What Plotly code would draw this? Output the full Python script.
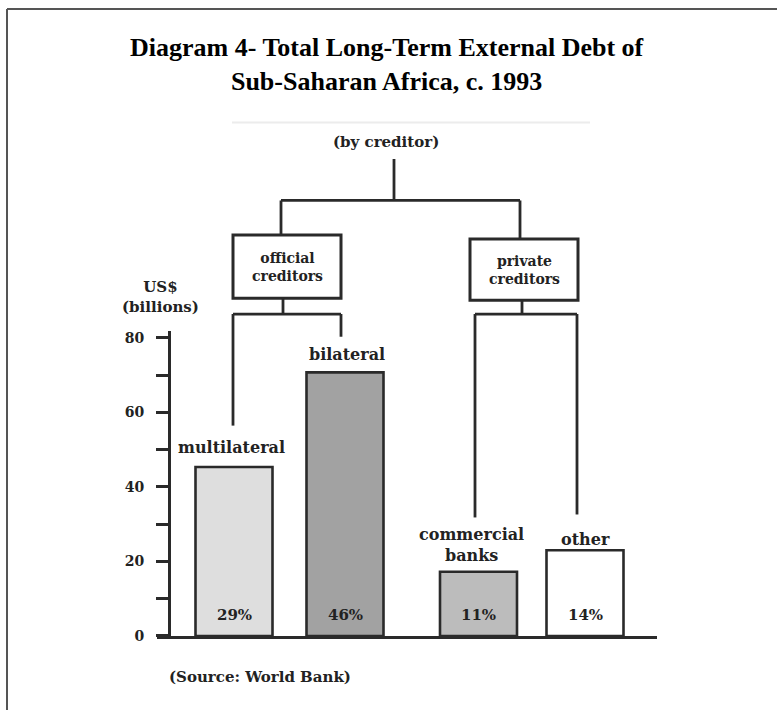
import plotly.graph_objects as go

# ---- data -------------------------------------------------------------
categories = ["multilateral", "bilateral", "commercial<br>banks", "other"]
debt_usd_bn = [45.3, 70.7, 17.2, 23.0]          # US$ billions
shares = ["29%", "46%", "11%", "14%"]
y_tick_vals = [0, 20, 40, 60, 80]
y_minor_vals = [10, 30, 50, 70]

# ---- page geometry (pixels) -------------------------------------------
W, H = 777, 718
BASE_PX, TOP80_PX = 643, 341          # pixel rows of 0 and 80 on the scale
PX_PER_UNIT = (BASE_PX - TOP80_PX) / 80.0
AXIS_TOP_PX = 334
AXIS_X_PX = 169
X_LEFT_PX, X_RIGHT_PX = 157, 657

bar_centers = [234, 345, 478.5, 585]
bar_width = 77
bar_fills = ["#dedede", "#a2a2a2", "#bcbcbc", "#ffffff"]
label_pos = [(231, 452), (347, 358), (471, 551), (585, 545)]

INK = "#2a2a2a"
TXT = "#222222"
SERIF = "Liberation Serif, Times New Roman, serif"
BOOK = "DejaVu Serif, serif"


def fx(px):
    return px / W


def fy(py):
    return 1 - py / H


fig = go.Figure(
    go.Bar(
        x=bar_centers,
        y=debt_usd_bn,
        width=bar_width,
        marker=dict(color=bar_fills, line=dict(color=INK, width=2.6)),
        hoverinfo="skip",
    )
)

shapes = []


def seg(x0, y0, x1, y1, color=INK, width=2.8):
    shapes.append(dict(type="line", xref="paper", yref="paper",
                       x0=fx(x0), y0=fy(y0), x1=fx(x1), y1=fy(y1),
                       line=dict(color=color, width=width)))


def box(x0, y0, x1, y1):
    shapes.append(dict(type="rect", xref="paper", yref="paper",
                       x0=fx(x0), y0=fy(y0), x1=fx(x1), y1=fy(y1),
                       line=dict(color=INK, width=3), fillcolor="white"))


# page frame (top and left rules)
seg(7, 8, W, 8, color="#555555", width=2)
seg(7, 8, 7, H, color="#555555", width=2)

# faint rule above the subtitle
seg(232, 123, 590, 123, color="#ececec", width=2)

# creditor tree
seg(394, 160, 394, 202)
seg(281, 202, 520, 202)
seg(281, 202, 281, 237)
seg(520, 202, 520, 241)
box(233, 237, 341, 301)
box(470, 241, 578, 303)
# official branch
seg(283, 301, 283, 317)
seg(233, 317, 341, 317)
seg(233, 317, 233, 430)
seg(341, 317, 341, 340)
# private branch
seg(522, 303, 522, 317)
seg(475, 317, 577, 317)
seg(475, 317, 475, 523)
seg(577, 317, 577, 520)

ann = []


def text(x, y, s, size=16, color=TXT, xanchor="center", family=BOOK, bold=True):
    ann.append(dict(xref="paper", yref="paper", x=fx(x), y=fy(y),
                    text=f"<b>{s}</b>" if bold else s, showarrow=False,
                    xanchor=xanchor, yanchor="middle",
                    font=dict(family=family, size=size, color=color)))


text(387, 64, "Diagram 4- Total Long-Term External Debt of<br>Sub-Saharan Africa, c. 1993",
     size=26, color="#000000", family=SERIF)
text(386, 143, "(by creditor)", size=15)
text(287, 269, "official<br>creditors", size=14)
text(524, 272, "private<br>creditors", size=14)
text(160, 300, "US$<br>(billions)", size=15)
text(167, 685, "(Source: World Bank)", size=15, xanchor="left")

for (lx, ly), name in zip(label_pos, categories):
    text(lx, ly, name, size=16)

for cx, s in zip(bar_centers, shares):
    ann.append(dict(x=cx, y=(BASE_PX - 622) / PX_PER_UNIT, xref="x", yref="y",
                    text=f"<b>{s}</b>", showarrow=False, yanchor="middle",
                    font=dict(family=BOOK, size=15, color=TXT)))

fig.update_layout(
    width=W, height=H,
    margin=dict(l=0, r=0, t=0, b=0),
    paper_bgcolor="white", plot_bgcolor="rgba(0,0,0,0)",
    showlegend=False,
    shapes=shapes,
    annotations=ann,
    xaxis=dict(domain=[fx(X_LEFT_PX), fx(X_RIGHT_PX)], range=[X_LEFT_PX, X_RIGHT_PX],
               anchor="y", showline=True, linecolor=INK, linewidth=3,
               showticklabels=False, ticks="", showgrid=False, zeroline=False,
               fixedrange=True),
    yaxis=dict(domain=[fy(BASE_PX), fy(AXIS_TOP_PX)],
               range=[0, (BASE_PX - AXIS_TOP_PX) / PX_PER_UNIT],
               anchor="free", position=fx(AXIS_X_PX),
               showline=True, linecolor=INK, linewidth=3,
               ticks="outside", ticklen=12, tickwidth=2.6, tickcolor=INK,
               tickvals=y_tick_vals, ticktext=[f"<b>{v}</b>" for v in y_tick_vals],
               ticklabelstandoff=9,
               tickfont=dict(family=BOOK, size=14, color=TXT),
               minor=dict(tickvals=y_minor_vals, ticks="outside", ticklen=12,
                          tickwidth=2.6, tickcolor=INK, showgrid=False),
               showgrid=False, zeroline=False, fixedrange=True),
)

fig.write_html("out.html")
